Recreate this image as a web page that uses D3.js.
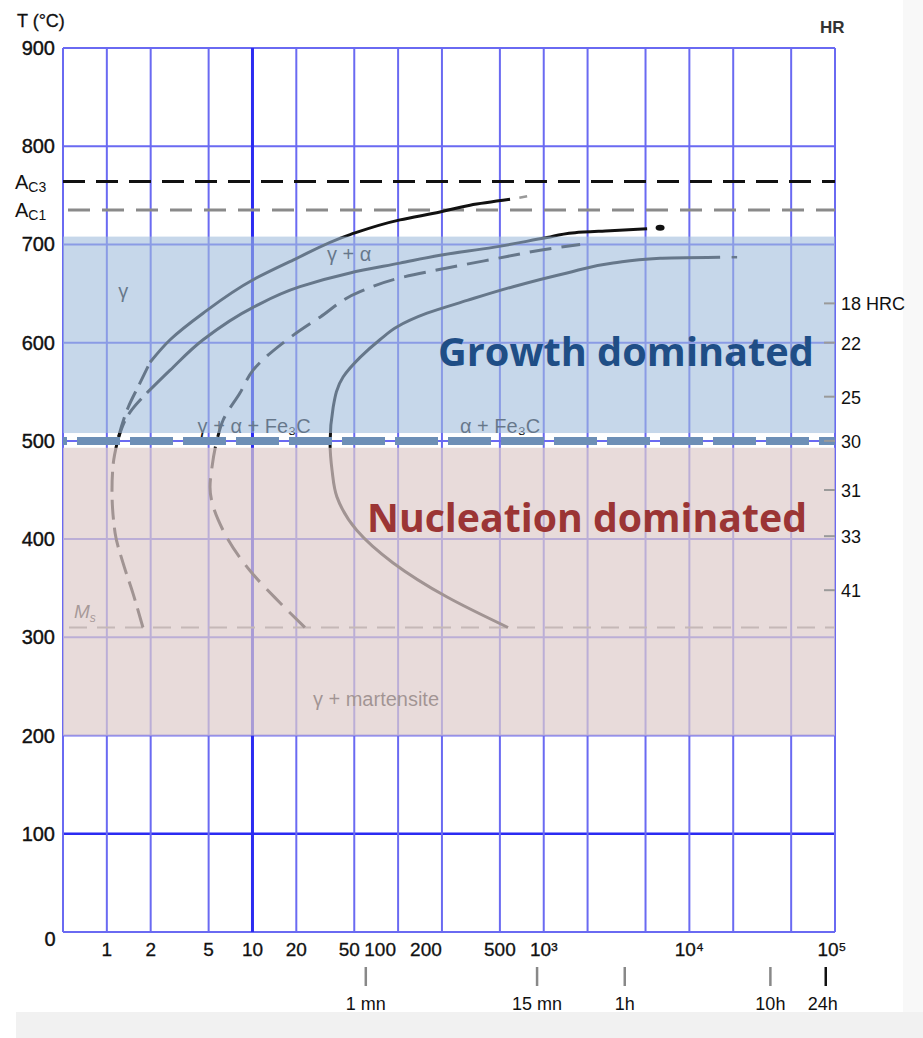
<!DOCTYPE html>
<html>
<head>
<meta charset="utf-8">
<script src="https://cdn.jsdelivr.net/npm/d3@7/dist/d3.min.js"></script>
<style>
  body { margin: 0; background: #fff; }
  svg text { font-family: "Liberation Sans", Arial, sans-serif; }
</style>
</head>
<body>
<div id="viz"></div>
<script>
// Axes
const tempTicks = [0, 100, 200, 300, 400, 500, 600, 700, 800, 900];
const timeGrid = [1, 2, 5, 10, 20, 50, 100, 200, 500, 1000, 2000, 5000, 10000, 20000, 50000, 100000];
const timeLabels = ['1', '2', '5', '10', '20', '50', '100', '200', '500', '10³', '10⁴', '10⁵'];
const timeLabelValues = [1, 2, 5, 10, 20, 50, 100, 200, 500, 1000, 10000, 100000];
const clockValues = [60, 900, 3600, 36000, 86400];
const clockLabels = ['1 mn', '15 mn', '1h', '10h', '24h'];

// Hardness scale (right), placed at temperature
const hrTemps = [640, 600, 545, 500, 450, 403, 348];
const hrLabels = ['18 HRC', '22', '25', '30', '31', '33', '41'];

// Critical temperatures
const AC3 = 764, AC1 = 735, MS = 310;
const growthBand = [508, 708];
const nucleationBand = [200, 493];
const splitTemp = 500;

// Curves [time (s), temperature (°C)]
const curve1Dashed = [[1.77, 310], [1.51, 345], [1.29, 376], [1.14, 406], [1.085, 450], [1.10, 473], [1.19, 501], [1.40, 534], [1.69, 559], [1.98, 580]];
const curve1Solid = [[1.98, 580], [2.72, 603], [4.58, 630], [10.1, 664], [19, 684], [46.8, 710], [103, 725], [194, 733], [312, 740], [587, 746]];
const curve1Tail = [[680, 747.5], [769, 749]];
const curve2Dashed = [[1.19, 501], [1.44, 529], [1.89, 549]];
const curve2Solid = [[1.89, 549], [2.72, 572], [4.58, 603], [10.1, 636], [21.2, 657], [46.8, 671], [103, 681], [194, 689], [449, 697], [1054, 707], [1641, 712], [2857, 714], [5128, 716]];
const curve2Dot = [6295, 717];
const curve3Dashed = [[22.9, 310], [15.5, 335], [9.6, 368], [6.28, 409], [5.11, 453], [5.27, 473], [5.71, 501], [6.28, 521], [8.22, 549], [10.1, 572], [17.3, 603], [29.1, 626], [54.8, 652], [103, 666], [217, 676], [449, 685], [944, 694], [1778, 700]];
const curve4Solid = [[569, 310], [217, 341], [92, 376], [52, 409], [38, 443], [35.2, 470], [34.1, 498], [35.8, 534], [41.9, 565], [54.8, 585], [75, 603], [98, 616], [158, 630], [298, 643], [616, 657], [1447, 671], [2994, 681], [6295, 686], [16265, 687]];
const curve4Tail = [[19500, 687], [21280, 687]];

// Phase labels [text, time, temp]
const phaseLabels = [
  ['γ', 1.2, 645],
  ['γ + α', 32.5, 683],
  ['γ + α + Fe₃C', 4.2, 508],
  ['α + Fe₃C', 266, 508],
  ['γ + martensite', 26, 230]
];

const W = 923, H = 1038;
const svg = d3.select('#viz').append('svg')
  .attr('width', W).attr('height', H);

const x = d3.scaleLog().domain([0.5, 1e5]).range([63, 835]);
const y = d3.scaleLinear().domain([0, 900]).range([932, 48]);

// Fondo
svg.append('rect').attr('width', W).attr('height', H).attr('fill', '#fff');
svg.append('rect').attr('x', 903).attr('y', 0).attr('width', 20).attr('height', H).attr('fill', '#f8f8f8');
svg.append('rect').attr('x', 16).attr('y', 1012).attr('width', W - 16).attr('height', 26).attr('fill', '#f1f1f1');

// Rejilla
const grid = svg.append('g');
grid.selectAll('.h').data(tempTicks).enter().append('line')
  .attr('x1', x(0.5)).attr('x2', x(1e5))
  .attr('y1', d => y(d)).attr('y2', d => y(d))
  .attr('stroke', d => d === 100 ? '#2b2bf2' : '#6a6af2')
  .attr('stroke-width', d => d === 100 ? 2.5 : 2);
grid.selectAll('.v').data([0.5].concat(timeGrid)).enter().append('line')
  .attr('x1', d => x(d)).attr('x2', d => x(d))
  .attr('y1', y(0)).attr('y2', y(900))
  .attr('stroke', d => d === 10 ? '#2b2bf2' : '#6a6af2')
  .attr('stroke-width', d => d === 10 ? 3 : 2);

// Ac3 / Ac1 / Ms
svg.append('line').attr('x1', x(0.5)).attr('x2', x(1e5)).attr('y1', y(AC3)).attr('y2', y(AC3))
  .attr('stroke', '#111').attr('stroke-width', 3).attr('stroke-dasharray', '22,11');
svg.append('line').attr('x1', x(0.5) + 5).attr('x2', x(1e5)).attr('y1', y(AC1)).attr('y2', y(AC1))
  .attr('stroke', '#8a8a8a').attr('stroke-width', 3).attr('stroke-dasharray', '22,12');
svg.append('line').attr('x1', x(0.5) + 6).attr('x2', x(1e5)).attr('y1', y(MS)).attr('y2', y(MS))
  .attr('stroke', '#8a8a8a').attr('stroke-width', 2).attr('stroke-dasharray', '18,10');

// Curvas
const line = d3.line().x(d => x(d[0])).y(d => y(d[1])).curve(d3.curveMonotoneY);
const curves = svg.append('g').attr('fill', 'none').attr('stroke', '#111').attr('stroke-width', 3);
curves.append('path').attr('d', line(curve1Dashed)).attr('stroke-dasharray', '20,8');
curves.append('path').attr('d', line(curve1Solid));
curves.append('path').attr('d', line(curve1Tail)).attr('stroke', '#999').attr('stroke-width', 2.5);
curves.append('path').attr('d', line(curve2Dashed)).attr('stroke-dasharray', '20,8');
curves.append('path').attr('d', line(curve2Solid));
curves.append('path').attr('d', line(curve3Dashed)).attr('stroke-dasharray', '22,10');
curves.append('path').attr('d', line(curve4Solid));
curves.append('path').attr('d', line(curve4Tail)).attr('stroke-width', 2.5);
svg.append('ellipse').attr('cx', x(curve2Dot[0])).attr('cy', y(curve2Dot[1]))
  .attr('rx', 4.5).attr('ry', 3).attr('fill', '#111');

// Etiquetas de fases
svg.append('g').selectAll('text').data(phaseLabels).enter().append('text')
  .attr('x', d => x(d[1])).attr('y', d => y(d[2]))
  .attr('font-size', 20).attr('fill', '#111')
  .text(d => d[0]);
svg.append('text').attr('x', 74).attr('y', y(MS) - 10).attr('font-size', 19).attr('fill', '#222')
  .attr('font-style', 'italic').text('M').append('tspan').attr('font-size', 12).attr('dy', 4).text('s');

// Zonas
svg.append('rect').attr('x', x(0.5)).attr('width', x(1e5) - x(0.5))
  .attr('y', y(growthBand[1])).attr('height', y(growthBand[0]) - y(growthBand[1]))
  .attr('fill', '#a0bcdc').attr('opacity', 0.6);
svg.append('rect').attr('x', x(0.5)).attr('width', x(1e5) - x(0.5))
  .attr('y', y(nucleationBand[1])).attr('height', y(nucleationBand[0]) - y(nucleationBand[1]))
  .attr('fill', '#deccca').attr('opacity', 0.7);

// Línea 500 °C
svg.append('line').attr('x1', x(0.5)).attr('x2', x(1e5)).attr('y1', y(splitTemp)).attr('y2', y(splitTemp))
  .attr('stroke', '#6d8fb6').attr('stroke-width', 8).attr('stroke-dasharray', '43,10')
  .attr('stroke-dashoffset', -14);

// Eje Y
svg.append('g').selectAll('text').data(tempTicks).enter().append('text')
  .attr('x', d => d === 0 ? 50 : 55).attr('y', d => d === 0 ? y(d) + 14 : y(d) + 7)
  .attr('text-anchor', d => d === 0 ? 'middle' : 'end')
  .attr('font-size', 20).attr('fill', '#111').attr('stroke', '#111').attr('stroke-width', 0.4)
  .text(d => d);
svg.append('text').attr('x', 17).attr('y', 27).attr('font-size', 18).attr('fill', '#111')
  .attr('stroke', '#111').attr('stroke-width', 0.3).text('T (°C)');
[['3', AC3], ['1', AC1]].forEach(function(a) {
  const t = svg.append('text').attr('x', 15).attr('y', y(a[1]) + 7).attr('font-size', 20).attr('fill', '#111').text('A');
  t.append('tspan').attr('font-size', 14).attr('dy', 3).text('C' + a[0]);
});

// Eje X
svg.append('g').selectAll('text').data(timeLabelValues).enter().append('text')
  .attr('x', d => x(d) + (d === 50 ? -5 : d === 100 ? -18 : d === 200 ? -16 : d === 100000 ? -3 : 0))
  .attr('y', 956)
  .attr('text-anchor', 'middle')
  .attr('font-size', 19).attr('fill', '#111').attr('stroke', '#111').attr('stroke-width', 0.3)
  .text((d, i) => timeLabels[i]);
svg.append('g').selectAll('line').data(clockValues).enter().append('line')
  .attr('x1', d => x(d)).attr('x2', d => x(d))
  .attr('y1', 967).attr('y2', 986)
  .attr('stroke', d => d === 86400 ? '#111' : '#888').attr('stroke-width', 2.5);
svg.append('g').selectAll('text').data(clockValues).enter().append('text')
  .attr('x', d => x(d) + (d === 86400 ? -3 : 0))
  .attr('y', 1010).attr('text-anchor', 'middle')
  .attr('font-size', 18).attr('fill', '#111')
  .text((d, i) => clockLabels[i]);

// Eje HR
svg.append('text').attr('x', 820).attr('y', 33).attr('font-size', 17).attr('font-weight', 'bold').attr('fill', '#333').text('HR');
svg.append('g').selectAll('line').data(hrTemps).enter().append('line')
  .attr('x1', 824).attr('x2', x(1e5))
  .attr('y1', d => y(d)).attr('y2', d => y(d))
  .attr('stroke', '#9a9a9a').attr('stroke-width', 2);
svg.append('g').selectAll('text').data(hrTemps).enter().append('text')
  .attr('x', 841).attr('y', d => y(d) + 7)
  .attr('font-size', 18).attr('fill', '#111')
  .text((d, i) => hrLabels[i]);

// Textos principales
svg.append('text').attr('x', 438).attr('y', 366)
  .style('font-family', '"Open Sans", sans-serif').attr('font-weight', 700).attr('font-size', 39)
  .attr('fill', '#1f4e86').attr('textLength', 376).attr('lengthAdjust', 'spacingAndGlyphs')
  .text('Growth dominated');
svg.append('text').attr('x', 367).attr('y', 532)
  .style('font-family', '"Open Sans", sans-serif').attr('font-weight', 700).attr('font-size', 39)
  .attr('fill', '#9b3535').attr('textLength', 440).attr('lengthAdjust', 'spacingAndGlyphs')
  .text('Nucleation dominated');
</script>
</body>
</html>
